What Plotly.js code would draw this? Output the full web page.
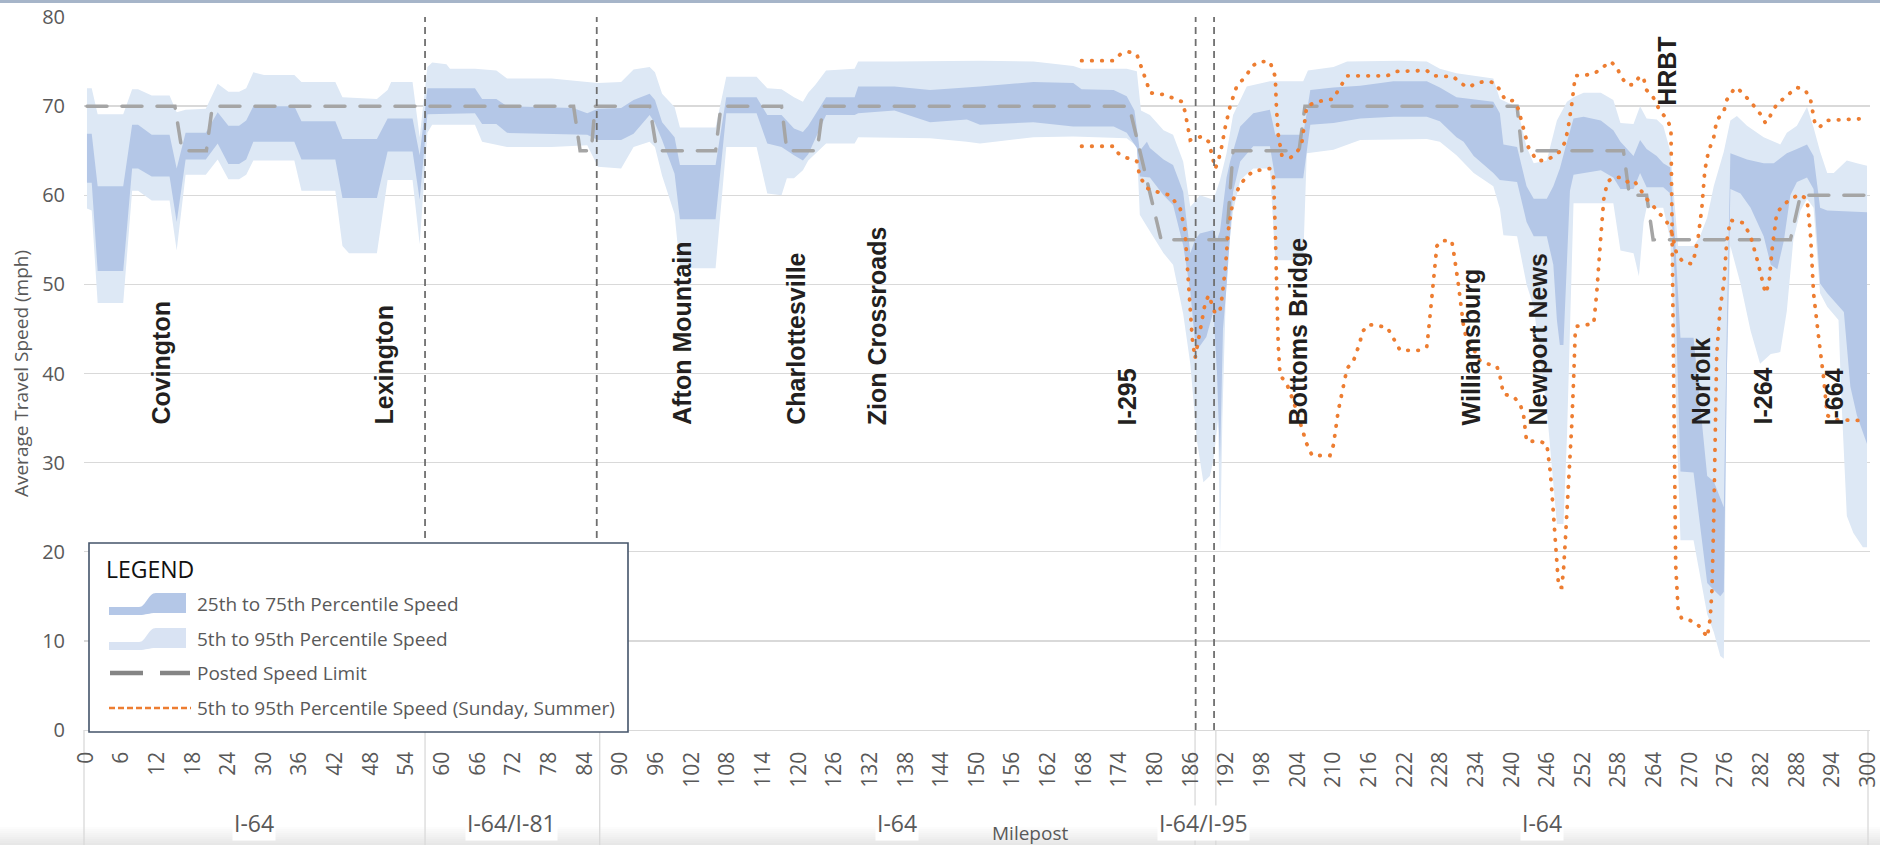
<!DOCTYPE html>
<html>
<head>
<meta charset="utf-8">
<script src="https://cdn.plot.ly/plotly-3.0.1.min.js"></script>
<style>
html,body{margin:0;padding:0;background:#fff;}
#chart .scatterlayer .js-line{stroke-linecap:round;}
</style>
</head>
<body>
<div id="chart" style="width:1880px;height:845px;"></div>
<script>
// ---------------- DATA ----------------
const tickMiles = [];
for (let m = 0; m <= 300; m += 6) tickMiles.push(m);

// 95th percentile (top of light band)
const p95Miles = [0.2,1.0,2.0,6.3,7.8,8.8,11.1,14.1,15.3,16.8,20.2,22.2,24.0,25.8,27.0,28.2,30.0,35.1,36.3,42.0,43.2,49.0,50.8,51.4,55.0,56.2,57.5,58.3,60.7,61.3,65.5,69.1,70.9,78.4,84.4,86.2,90.1,92.2,94.9,95.8,97.0,99.1,100.0,106.0,107.8,112.9,114.7,117.1,119.2,120.7,121.6,122.8,124.6,129.4,130.0,136.1,150.5,159.5,166.2,167.6,175.2,176.9,177.6,179.1,181.4,183.0,184.7,185.9,186.7,187.5,189.8,190.9,192.0,193.1,195.4,199.3,204.9,205.7,210.0,212.3,221.2,225.7,227.9,230.7,236.9,238.0,240.9,242.5,243.7,245.9,247.6,249.3,250.4,252.1,255.0,257.1,258.3,260.5,261.6,262.7,264.4,265.5,266.7,267.5,268.0,270.6,271.7,272.9,274.0,275.7,276.8,277.9,279.6,282.4,284.1,285.2,286.3,288.0,289.7,290.8,291.9,293.1,294.2,296.4,298.1,299.8];
const p95Vals = [72.0,72.0,69.1,69.1,71.9,71.9,71.2,71.2,69.3,69.6,69.7,72.5,71.6,71.6,72.0,73.8,73.5,73.5,72.7,72.7,71.0,70.8,71.8,72.7,72.7,66.5,74.4,74.9,74.7,74.2,74.2,74.0,73.1,73.1,72.7,72.6,72.7,74.1,74.4,73.8,71.4,69.9,67.6,67.6,73.3,73.3,72.0,71.9,71.0,70.5,71.5,72.4,74.0,74.2,75.0,75.0,75.1,75.0,74.5,74.2,74.2,73.9,69.5,69.0,67.3,66.8,63.8,58.7,59.3,60.0,59.5,61.7,64.7,69.0,72.2,72.8,72.8,74.0,74.4,75.0,75.1,75.0,74.2,73.7,73.1,70.8,69.9,65.4,63.6,63.9,68.4,70.5,71.0,71.5,71.5,70.7,68.1,68.0,70.0,68.6,68.5,67.8,64.9,58.0,54.3,54.3,55.4,57.5,61.0,64.9,68.4,68.9,67.8,66.5,66.0,65.7,67.0,67.8,69.9,67.6,64.9,62.5,62.5,63.9,63.6,63.3];

// 75th percentile (top of dark band)
const p75Miles = [0.2,1.0,2.0,6.3,7.8,8.8,11.1,14.1,15.3,16.8,20.2,22.2,24.0,25.8,27.0,28.2,35.1,36.3,42.0,43.2,49.0,50.8,55.0,56.2,57.5,65.5,66.7,69.1,70.9,78.4,82.0,84.4,86.2,90.1,92.2,94.9,95.8,97.0,99.1,100.0,106.0,107.8,112.9,114.7,117.1,119.2,120.7,121.6,124.6,129.4,130.0,136.1,142.1,150.5,159.5,166.2,167.6,173.0,175.2,176.5,177.4,178.6,179.1,181.4,183.0,184.7,185.9,186.7,187.5,189.8,190.4,190.9,192.0,192.6,194.3,196.5,199.3,200.2,204.9,206.1,210.0,214.5,220.1,225.7,227.9,230.7,236.9,238.0,238.6,240.9,242.5,243.7,245.9,247.0,248.1,249.3,250.4,252.1,255.0,257.1,258.3,260.5,261.6,262.7,264.4,265.5,266.7,267.5,268.4,270.6,272.9,274.0,275.7,276.2,276.8,279.6,282.4,284.1,286.3,288.0,289.7,290.8,291.9,293.1,299.8];
const p75Vals = [66.9,66.9,61.0,61.0,67.9,67.9,66.8,66.8,63.0,67.0,67.0,69.3,67.8,67.8,68.4,70.0,70.0,68.3,68.3,66.3,66.3,68.6,68.6,64.5,72.0,72.0,70.8,70.8,70.0,69.9,69.8,69.2,69.7,69.8,70.7,71.4,70.7,68.2,66.5,63.4,63.4,71.0,71.0,69.0,69.0,67.5,67.1,67.8,71.0,71.0,72.2,72.2,71.8,72.2,72.7,72.6,71.9,71.8,71.1,69.5,65.0,66.0,65.3,64.0,63.4,60.4,53.5,55.0,55.7,56.1,55.0,56.0,62.0,63.8,67.7,69.2,69.6,66.8,66.8,71.8,72.1,72.3,72.8,72.8,72.1,71.0,70.5,69.2,65.7,65.4,61.0,59.6,59.6,61.0,63.0,66.0,68.6,68.8,68.4,67.3,66.0,64.4,66.2,65.2,64.4,63.6,63.1,55.0,44.0,44.0,28.5,27.9,25.0,45.0,64.7,64.0,63.6,63.6,64.7,65.2,65.7,64.4,58.6,58.3,58.1];

// 25th percentile (bottom of dark band)
const p25Miles = [0.2,1.0,2.0,6.3,7.8,8.8,11.1,14.1,15.3,16.8,20.2,22.2,24.0,25.8,27.0,28.2,35.1,36.3,42.0,43.2,49.0,50.8,55.0,56.2,57.5,65.5,66.7,69.1,70.9,78.4,84.4,86.2,90.1,92.2,94.9,95.8,97.0,99.1,100.0,106.0,107.8,112.9,114.7,117.1,119.2,120.7,121.6,124.6,129.4,130.0,136.1,142.1,148.3,150.5,159.5,166.2,173.0,175.2,176.9,177.4,179.1,181.4,183.0,184.7,185.9,186.7,187.0,188.6,189.8,190.4,190.9,191.4,192.0,193.1,194.3,196.5,199.3,200.2,204.9,206.1,210.0,214.5,220.1,225.7,227.9,230.7,231.9,233.6,236.9,238.0,240.9,242.5,243.7,245.9,247.0,247.6,248.1,248.7,249.3,249.8,250.4,255.0,257.1,258.3,260.5,261.6,262.7,265.5,266.7,267.5,268.4,270.6,272.9,274.0,275.1,275.7,276.2,276.8,278.5,280.2,282.4,283.6,284.7,285.8,286.9,288.0,289.7,290.8,291.9,293.1,295.9,297.0,298.1,299.8];
const p25Vals = [61.4,61.4,51.5,51.5,63.0,63.0,62.1,62.1,57.0,64.0,64.0,65.8,63.5,63.5,64.0,66.0,66.0,64.0,64.0,59.7,59.7,64.9,64.9,59.5,69.1,69.2,68.0,68.0,67.0,66.9,66.8,66.2,66.2,66.9,69.0,68.1,66.2,62.4,57.3,57.3,69.2,69.2,65.8,65.4,64.5,63.9,64.6,69.0,69.0,69.2,69.5,68.2,68.5,67.9,68.2,67.7,67.7,67.0,65.3,62.1,62.0,60.0,58.9,54.4,49.2,43.5,42.6,44.1,47.0,40.0,30.0,45.0,49.7,60.4,63.8,65.5,65.5,61.9,61.9,67.9,68.1,68.6,68.8,68.8,68.3,66.5,66.0,64.4,62.5,61.7,61.5,57.0,55.4,55.4,52.2,46.0,43.2,43.2,52.0,60.5,62.3,62.8,62.0,60.7,60.7,62.5,60.9,60.9,60.2,50.0,29.0,28.9,16.5,15.7,15.0,15.5,40.0,60.7,60.2,58.6,55.4,52.2,51.7,54.9,60.0,61.5,62.0,60.7,50.1,49.0,46.9,38.5,35.3,32.1];

// 5th percentile (bottom of light band)
const p5Miles = [0.2,1.0,2.0,6.3,7.8,8.8,11.1,14.1,15.3,16.8,20.2,22.2,24.0,25.8,27.0,28.2,35.1,36.3,42.0,43.2,44.3,49.0,50.8,55.0,56.2,57.5,58.3,65.5,66.7,70.9,78.4,84.4,86.2,90.1,92.2,94.9,95.8,97.0,99.1,100.0,106.0,107.8,112.9,114.7,117.1,118.0,119.2,120.7,121.6,124.6,129.4,130.0,142.1,148.3,150.5,159.5,166.2,175.2,176.9,177.4,178.6,181.4,183.0,184.7,185.9,187.0,188.1,189.2,189.8,190.6,190.9,191.3,192.0,193.1,194.3,196.5,199.3,200.2,204.9,205.5,210.0,214.5,225.7,227.9,230.7,233.6,236.9,238.0,238.6,240.9,242.5,243.7,245.9,247.6,248.7,249.3,249.8,250.4,257.1,258.3,260.5,261.4,262.2,262.7,265.5,266.7,267.5,268.4,270.6,272.9,274.0,275.1,275.7,276.2,276.8,278.5,280.2,281.8,283.6,285.2,286.3,287.4,288.6,289.7,290.8,291.9,293.1,295.0,295.5,296.4,297.5,299.1,299.8];
const p5Vals = [58.5,58.3,47.9,47.9,60.5,60.5,59.4,59.4,53.8,62.3,62.3,64.0,61.8,61.8,62.3,63.9,63.9,60.5,60.5,54.3,53.5,53.5,61.7,61.7,54.5,67.0,67.9,67.9,66.0,65.4,65.4,65.6,63.2,63.0,65.4,66.0,65.4,62.2,57.9,51.8,51.8,65.4,65.4,60.2,60.0,61.9,61.9,62.8,63.9,65.8,65.8,66.5,66.4,66.0,65.8,66.5,66.6,66.4,65.5,57.8,56.5,53.5,52.2,46.7,41.1,32.5,27.8,28.5,30.3,35.0,19.8,35.0,51.8,58.2,61.7,63.0,63.0,52.7,52.7,64.7,65.1,66.2,66.3,66.0,64.5,62.5,61.0,58.5,55.5,55.4,50.0,47.5,36.0,23.1,23.1,33.0,45.0,59.1,59.1,53.8,53.5,50.9,57.0,58.6,58.6,55.0,40.0,21.3,21.3,13.0,11.0,8.3,8.0,40.0,54.3,50.1,44.8,41.1,42.2,42.4,47.0,55.0,58.3,59.6,58.6,49.0,47.5,46.0,37.0,24.0,22.1,20.5,20.5];

// Posted speed limit
const postedMiles = [0.2,15.0,16.2,20.3,21.3,82.1,83.2,85.1,85.7,94.9,96.1,106.0,106.9,117.1,118.0,123.1,124.1,175.6,181.0,192.0,193.1,204.2,205.2,240.9,241.7,258.8,259.8,262.7,263.8,286.9,288.6,300.0];
const postedVals = [70,70,65,65,70,70,65,65,70,70,65,65,70,70,65,65,70,70,55,55,65,65,70,70,65,65,60,60,55,55,60,60];

// Sunday, summer 5th-95th percentile lines (two dotted curves, as traced)
const sundayP95Miles = [167.6,173.0,174.1,175.5,176.9,178.0,178.6,179.1,181.4,183.0,184.5,185.0,185.6,185.9,186.7,187.9,189.0,189.5,190.1,190.6,191.2,191.8,192.6,193.7,195.4,196.3,197.6,199.3,200.2,200.4,200.7,201.3,202.7,203.8,204.7,205.5,207.2,210.0,210.8,212.3,219.0,220.7,225.7,226.8,230.2,231.3,232.7,234.1,235.8,237.2,238.0,238.9,240.3,241.1,242.0,242.8,244.2,245.9,247.0,248.1,249.0,249.5,250.1,250.7,252.6,254.0,255.4,256.6,257.7,258.3,259.4,260.5,261.6,262.2,262.7,263.8,265.0,266.1,266.8,267.1,267.6,268.0,268.6,270.0,271.1,272.3,272.9,273.4,273.7,274.0,274.3,274.5,275.1,275.7,276.2,276.8,279.0,280.2,281.3,282.7,283.3,283.8,284.6,285.8,288.3,289.7,290.3,290.8,291.7,292.5,293.1,294.7,299.8];
const sundayP95Vals = [75.1,75.1,75.8,76.1,75.8,73.9,72.6,71.5,71.3,70.9,70.5,69.4,67.3,66.2,66.4,66.6,66.0,64.7,63.0,63.8,65.5,67.7,70.0,72.2,73.5,74.5,75.0,75.0,73.3,69.8,66.8,64.5,64.2,64.7,66.0,70.0,70.5,70.8,71.8,73.4,73.4,73.9,74.0,73.4,73.3,72.6,72.1,72.6,72.8,72.6,71.8,70.7,70.6,69.7,67.6,65.4,63.9,63.9,64.4,64.9,66.0,67.6,70.2,73.4,73.5,73.7,74.4,75.0,74.4,73.4,72.4,72.4,73.4,73.1,71.8,71.0,69.4,68.6,67.5,44.8,18.4,13.6,12.5,12.3,12.0,11.0,10.4,12.5,15.7,23.7,34.2,42.2,47.5,50.1,54.9,57.2,56.9,55.4,52.8,49.0,50.1,53.8,58.0,59.0,60.1,59.6,55.4,49.0,43.8,39.5,35.3,34.8,34.7];

const sundayP5Miles = [167.6,173.0,173.8,175.2,176.9,177.4,178.6,180.2,182.5,184.2,185.0,185.3,185.6,185.9,186.2,186.7,187.3,187.9,188.4,189.0,189.5,190.1,190.9,191.2,191.8,192.3,193.1,194.3,195.4,196.5,199.3,199.9,200.2,200.4,200.7,201.0,202.1,203.3,204.4,205.5,206.4,209.4,210.0,210.8,212.3,213.3,214.2,215.0,215.9,219.0,219.8,220.4,221.2,224.6,225.7,226.0,226.3,226.6,226.8,227.1,227.4,228.2,229.9,230.3,230.7,231.0,231.3,231.6,231.9,232.4,233.6,234.7,235.8,237.5,238.0,238.6,240.3,241.4,242.0,242.5,244.6,245.9,246.2,246.5,246.8,247.0,247.3,247.6,247.9,248.4,248.7,249.0,249.3,249.8,250.1,250.4,250.7,251.0,253.8,254.3,254.6,255.0,255.5,256.1,257.1,258.3,259.4,260.5,261.6,262.7,263.8,265.0,266.1,266.9,267.8,268.9,270.3,270.8,271.4,272.0,272.5,273.1,274.0,274.5,275.7,276.2,277.3,277.9,279.0,280.2,282.1,282.7,283.5,284.6,286.9,288.0,289.4,290.3,291.1,291.9,293.1,299.8];
const sundayP5Vals = [65.5,65.5,64.7,64.2,63.8,62.1,60.8,60.4,60.0,58.5,56.1,52.7,49.7,46.2,44.1,41.7,44.1,46.2,47.9,48.8,47.9,46.7,47.1,48.4,51.8,56.1,59.5,61.2,62.1,62.7,63.0,62.1,56.1,49.7,43.2,39.8,38.9,36.8,34.6,32.1,30.8,30.8,32.0,35.8,40.6,41.3,43.0,44.8,45.5,45.2,44.3,43.5,42.6,42.6,43.0,44.8,46.9,49.6,51.2,53.0,54.3,54.9,54.9,53.3,51.7,50.1,48.5,46.9,45.3,43.8,42.7,41.4,41.1,40.8,39.8,37.7,37.4,36.6,35.3,32.4,32.4,32.1,30.5,28.9,26.3,24.2,21.5,18.4,16.0,16.0,17.8,21.0,24.2,30.0,34.2,39.0,44.8,45.3,45.6,49.0,52.2,55.4,59.6,61.5,62.0,62.0,61.5,61.7,60.7,59.6,58.8,57.8,57.0,55.9,53.3,52.5,52.3,53.3,55.4,58.6,62.8,64.9,66.5,68.4,69.4,70.7,71.8,72.1,71.3,70.5,68.9,68.1,68.9,70.2,71.5,72.1,71.8,70.7,67.8,67.7,68.4,68.6];

// Place names along the corridor (mile position) and road segments
const placeNames = ['Covington','Lexington','Afton Mountain','Charlottesville','Zion Crossroads','I-295','Bottoms Bridge','Williamsburg','Newport News','Norfolk','I-264','I-664'];
const placeMiles = [12.6,50.2,100.4,119.5,133.3,175.4,204.1,233.3,244.5,271.9,282.3,294.4];
const topPlaceNames = ['HRBT'];
const topPlaceMiles = [266.2];
const routeNames = ['I-64','I-64/I-81','I-64','I-64/I-95','I-64'];
const routeCenters = [28.3,71.7,136.5,188.2,245.1];
const routeBreaks = [57.1,86.5,186.7,190.2];
const interchangeMiles = [57.1,86.0,186.8,189.9];

const legendLabels = ['25th to 75th Percentile Speed','5th to 95th Percentile Speed','Posted Speed Limit','5th to 95th Percentile Speed (Sunday, Summer)'];

// ---------------- STYLE ----------------
const DARK = '#b4c7e7', LIGHT = '#dde8f5', ORANGE = '#ed7d31', POSTED = '#a5a5a5';
const TXT = '#595959', FONT = 'Open Sans, Noto Sans, sans-serif';

function band(upM, upV, loM, loV) {
  return { x: upM.concat(loM.slice().reverse()), y: upV.concat(loV.slice().reverse()) };
}
const outer = band(p95Miles, p95Vals, p5Miles, p5Vals);
const inner = band(p75Miles, p75Vals, p25Miles, p25Vals);

const DOTS = {color: ORANGE, width:3.8, dash:'0.5px,9.6px'};
const traces = [
  { type:'scatter', mode:'lines', name: legendLabels[1], x: outer.x, y: outer.y,
    fill:'toself', fillcolor: LIGHT, line:{width:0, color: LIGHT}, hoverinfo:'skip' },
  { type:'scatter', mode:'lines', name: legendLabels[0], x: inner.x, y: inner.y,
    fill:'toself', fillcolor: DARK, line:{width:0, color: DARK}, hoverinfo:'skip' },
  { type:'scatter', mode:'lines', name: legendLabels[2], x: postedMiles, y: postedVals,
    line:{color: POSTED, width:3.5, dash:'20px,15px'} },
  { type:'scatter', mode:'lines', name: legendLabels[3], x: sundayP95Miles, y: sundayP95Vals, line: DOTS },
  { type:'scatter', mode:'lines', name: legendLabels[3], x: sundayP5Miles, y: sundayP5Vals, line: DOTS }
];

// pixel helpers for decorations (plot area: left 84, top 17, 1786 x 713)
const PL = 84, PT = 17, PW = 1786, PH = 713;
const X0 = -0.3, X1 = 300.3;
const fx = px => (px - PL) / PW;
const fy = py => (PT + PH - py) / PH;

const shapes = [];
// bottom grey gradient band of the screenshot
for (let i = 0; i < 10; i++) {
  const g = Math.round(252 - i * 2.6);
  shapes.push({type:'rect', xref:'paper', yref:'paper', layer:'below',
    x0: fx(0), x1: fx(1880), y0: fy(827 + 2*i), y1: fy(829 + 2*i + 0.5),
    fillcolor:`rgb(${g},${g},${g})`, line:{width:0}});
}
// top border strip
shapes.push({type:'rect', xref:'paper', yref:'paper', layer:'above',
  x0: fx(0), x1: fx(1880), y0: fy(3), y1: fy(0), fillcolor:'#a6b5c9', line:{width:0}});
// route group separators under the axis
[fx(84), fx(1868)].forEach(p => shapes.push({type:'line', xref:'paper', yref:'paper', layer:'below',
  x0: p, x1: p, y0: 0, y1: fy(845), line:{color:'#d9d9d9', width:1.3}}));
routeBreaks.forEach(m => shapes.push({type:'line', xref:'x', yref:'paper', layer:'below',
  x0: m, x1: m, y0: 0, y1: fy(845), line:{color:'#d9d9d9', width:1.3}}));
// interchange dashed lines
interchangeMiles.forEach(m => shapes.push({type:'line', xref:'x', yref:'paper', layer:'above',
  x0: m, x1: m, y0: 0, y1: 1, line:{color:'#6f6f6f', width:1.8, dash:'7px,5px'}}));

// ---- custom legend box (Excel-style) ----
shapes.push({type:'rect', xref:'paper', yref:'paper', layer:'above',
  x0: fx(89), x1: fx(628), y0: fy(732), y1: fy(543),
  fillcolor:'#ffffff', line:{color:'#44546a', width:1.6}});
function swatchPath(cy) {
  const P = (x, y) => fx(x).toFixed(5) + ',' + fy(y).toFixed(5);
  return 'M' + P(109, cy+3) + ' L' + P(139, cy+3) +
    ' C' + P(146, cy+3) + ' ' + P(148, cy-11) + ' ' + P(156, cy-11) +
    ' L' + P(186, cy-11) + ' L' + P(186, cy+9) + ' L' + P(156, cy+9) +
    ' C' + P(149, cy+9) + ' ' + P(146, cy+11) + ' ' + P(139, cy+11) +
    ' L' + P(109, cy+11) + ' Z';
}
const itemY = [604, 639, 673, 708];
shapes.push({type:'path', xref:'paper', yref:'paper', layer:'above', path: swatchPath(itemY[0]),
  fillcolor: DARK, line:{width:0}});
shapes.push({type:'path', xref:'paper', yref:'paper', layer:'above', path: swatchPath(itemY[1]),
  fillcolor: '#d9e3f3', line:{width:0}});
shapes.push({type:'line', xref:'paper', yref:'paper', layer:'above',
  x0: fx(110), x1: fx(143), y0: fy(itemY[2]), y1: fy(itemY[2]), line:{color:'#858585', width:4.5}});
shapes.push({type:'line', xref:'paper', yref:'paper', layer:'above',
  x0: fx(160), x1: fx(190), y0: fy(itemY[2]), y1: fy(itemY[2]), line:{color:'#858585', width:4.5}});
shapes.push({type:'line', xref:'paper', yref:'paper', layer:'above',
  x0: fx(109), x1: fx(191), y0: fy(itemY[3]), y1: fy(itemY[3]), line:{color: ORANGE, width:2.6, dash:'6px,3px'}});

const annotations = [];
const placeFont = {family:'Liberation Sans, Arial, sans-serif', size:25, color:'#231f20', weight:'bold'};
placeNames.forEach((t, i) => annotations.push({
  text: t, x: placeMiles[i], y: 34.0, xref:'x', yref:'y', xanchor:'center', yanchor:'bottom',
  textangle: -90, showarrow: false, font: placeFont
}));
topPlaceNames.forEach((t, i) => annotations.push({
  text: t, x: topPlaceMiles[i], y: 69.8, xref:'x', yref:'y', xanchor:'center', yanchor:'bottom',
  textangle: -90, showarrow: false, font: placeFont
}));
routeNames.forEach((t, i) => annotations.push({
  text: t, x: routeCenters[i], y: fy(823), xref:'x', yref:'paper', xanchor:'center', yanchor:'middle',
  showarrow:false, bgcolor:'#ffffff', borderpad:1, font:{family: FONT, size:23, color: TXT}
}));
annotations.push({text:'Milepost', x: fx(1030), y: fy(833), xref:'paper', yref:'paper',
  xanchor:'center', yanchor:'middle', showarrow:false, font:{family: FONT, size:19, color: TXT}});
annotations.push({text:'LEGEND', x: fx(104), y: fy(569), xref:'paper', yref:'paper',
  xanchor:'left', yanchor:'middle', showarrow:false, font:{family: FONT, size:23, color:'#111111'}});
legendLabels.forEach((t, i) => annotations.push({
  text: t, x: fx(195), y: fy(itemY[i]), xref:'paper', yref:'paper', xanchor:'left', yanchor:'middle',
  showarrow:false, font:{family: FONT, size:19, color: TXT}
}));

const layout = {
  width: 1880, height: 845,
  margin: {l: PL, r: 1880 - PL - PW, t: PT, b: 845 - PT - PH, pad: 0},
  paper_bgcolor:'#ffffff', plot_bgcolor:'#ffffff',
  showlegend: false, hovermode: false,
  font: {family: FONT, color: TXT},
  xaxis: {
    range: [X0, X1], tickmode:'array', tickvals: tickMiles, ticktext: tickMiles.map(String),
    tickangle: -90, tickfont:{family: FONT, size:21, color: TXT}, ticks:'', ticklabelstandoff: 12,
    ticklabeloverflow: 'allow',
    showgrid:false, zeroline:false, showline:true, linecolor:'#d9d9d9', linewidth:1.3
  },
  yaxis: {
    range: [0, 80], tickmode:'linear', tick0:0, dtick:10,
    tickfont:{family: FONT, size:20, color: TXT}, ticks:'', ticklabelstandoff: 18,
    showgrid:true, gridcolor:'#d9d9d9', gridwidth:1.4, zeroline:false, showline:false,
    title: {text:'Average Travel Speed (mph)', font:{family: FONT, size:19, color: TXT}, standoff: 8}
  },
  shapes: shapes,
  annotations: annotations
};

Plotly.newPlot('chart', traces, layout, {staticPlot:true, displayModeBar:false});
</script>
</body>
</html>
